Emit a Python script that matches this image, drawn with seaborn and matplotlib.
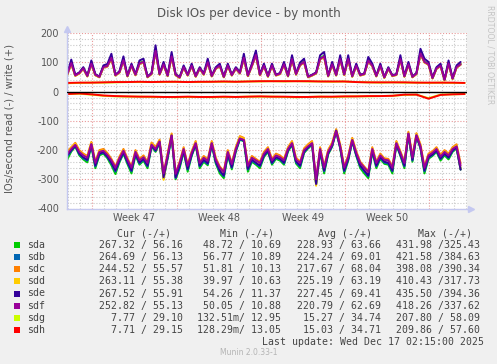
import numpy as np
import pandas as pd
import matplotlib
matplotlib.use("Agg")
import matplotlib.pyplot as plt
from matplotlib.patches import Rectangle
import seaborn as sns

# ---------------- data ----------------
devices = ["sda", "sdb", "sdc", "sdd", "sde", "sdf", "sdg", "sdh"]
colors = ["#00CC00", "#0066B3", "#FF8000", "#FFCC00", "#330099", "#990099", "#CCFF00", "#FF0000"]

t_start = "2025-11-14 22:00"
n_fine = 99      # 8-hour samples for sda..sdf
n_daily = 34     # daily samples for sdg/sdh

sda_w = [58,100,55,63,82,53,98,57,50,86, 90,118,56,66,110,53,92,57,99,104, 50,61,143,59,96,54,124,57,48,86,
         56,91,52,81,59,103,53,81,91,50, 92,56,81,63,118,54,91,129,57,91, 52,92,56,61,96,53,114,59,94,104,
         50,56,63,114,124,53,96,56,114,58, 114,52,91,56,60,108,91,53,91,48, 81,54,58,114,52,96,50,61,134,104,
         96,46,81,91,40,99,44,86,96]
sdb_w = [61,97,57,65,79,55,95,59,52,83, 87,115,58,68,107,55,89,59,96,101, 52,63,139,61,93,56,120,59,50,83,
         58,88,54,79,61,100,55,79,88,52, 89,58,79,65,115,56,88,125,59,88, 54,89,58,63,93,55,111,61,91,101,
         52,58,65,111,120,55,93,58,111,60, 111,54,88,58,62,105,88,55,88,50, 79,56,60,111,54,93,52,63,130,101,
         93,48,79,88,42,96,46,83,93]
sdc_w = [57,95,54,62,78,52,94,56,49,82, 86,113,55,65,106,52,88,56,95,100, 49,60,137,58,92,53,118,56,47,82,
         55,87,51,78,58,99,52,78,87,49, 88,55,78,62,113,53,87,123,56,87, 51,88,55,60,92,52,110,58,90,100,
         49,55,62,110,118,52,92,55,110,57, 110,51,87,55,59,104,87,52,87,47, 78,53,57,110,51,92,49,60,128,100,
         92,45,78,87,39,95,43,82,92]
sdd_w = [59,97,56,64,80,54,96,58,51,84, 88,115,57,67,108,54,90,58,97,101, 51,62,139,60,94,55,120,58,49,84,
         57,89,53,80,60,100,54,80,89,51, 90,57,80,64,115,55,89,125,58,89, 53,90,57,62,94,54,111,60,92,101,
         51,57,64,111,120,54,94,57,111,59, 111,53,89,57,61,105,89,54,89,49, 80,55,59,111,53,94,51,62,130,101,
         94,47,80,89,41,97,45,84,94]
sde_w = [62,110,58,66,84,55,107,60,52,90, 95,130,58,70,121,55,96,60,107,113, 52,64,159,62,102,56,136,60,50,90,
         58,96,54,84,62,113,55,84,96,52, 96,58,84,66,130,56,96,141,60,96, 54,96,58,64,102,55,125,62,100,113,
         52,58,66,125,136,55,102,58,125,60, 125,54,96,58,62,119,96,55,96,50, 84,56,60,125,54,102,52,64,147,113,
         102,48,84,96,42,107,46,90,102]
sdf_w = [60,98,56,64,80,54,96,58,51,84, 88,116,57,67,108,54,90,58,97,102, 51,62,140,60,94,55,121,58,49,84,
         57,89,53,80,60,101,54,80,89,51, 90,57,80,64,116,55,89,126,58,89, 53,90,57,62,94,54,112,60,92,102,
         51,57,64,112,121,54,94,57,112,59, 112,53,89,57,61,106,89,54,89,49, 80,55,59,112,53,94,51,62,131,102,
         94,47,80,89,41,97,45,84,94]

sda_r = [-232,-205,-188,-218,-232,-242,-186,-262,-218,-212, -228,-252,-282,-242,-212,-248,-280,-218,-250,-236,
         -262,-188,-206,-176,-298,-230,-154,-300,-262,-206, -274,-220,-182,-262,-240,-252,-182,-246,-280,-296,
         -218,-266,-205,-164,-170,-274,-240,-250,-262,-224, -206,-250,-230,-236,-250,-205,-182,-246,-262,-210,
         -194,-182,-318,-206,-280,-215,-188,-136,-194,-280, -236,-170,-220,-262,-280,-296,-206,-262,-230,-247,
         -250,-280,-182,-220,-262,-147,-240,-153,-194,-280, -230,-220,-206,-236,-218,-232,-206,-194,-267]
sdb_r = [-222,-202,-186,-214,-228,-236,-183,-256,-214,-209, -224,-246,-274,-238,-209,-243,-273,-214,-246,-232,
         -256,-186,-203,-174,-296,-226,-152,-296,-256,-203, -267,-217,-180,-256,-236,-248,-180,-242,-273,-290,
         -214,-261,-202,-163,-169,-267,-236,-246,-256,-220, -203,-246,-226,-232,-246,-202,-180,-242,-256,-207,
         -192,-180,-318,-203,-273,-212,-186,-135,-192,-273, -232,-169,-217,-256,-273,-290,-203,-256,-226,-243,
         -246,-273,-180,-217,-256,-146,-236,-152,-192,-273, -226,-217,-203,-231,-214,-227,-203,-192,-265]
sdc_r = [-205,-190,-175,-200,-212,-220,-172,-240,-200,-196, -210,-230,-256,-222,-196,-228,-256,-200,-230,-218,
         -240,-174,-190,-164,-278,-212,-143,-278,-240,-190, -250,-204,-169,-240,-220,-232,-169,-226,-256,-272,
         -200,-244,-190,-152,-158,-250,-220,-230,-240,-206, -190,-230,-212,-218,-230,-190,-169,-226,-240,-194,
         -180,-169,-300,-190,-256,-199,-174,-128,-180,-256, -218,-158,-204,-240,-256,-272,-190,-240,-212,-228,
         -230,-256,-169,-204,-240,-137,-220,-142,-180,-256, -212,-204,-190,-216,-200,-212,-190,-180,-245]
sdd_r = [-208,-193,-178,-204,-216,-224,-175,-245,-204,-200, -214,-236,-262,-228,-200,-233,-262,-204,-236,-223,
         -245,-177,-194,-167,-302,-216,-146,-284,-245,-194, -256,-208,-172,-245,-225,-238,-172,-231,-262,-278,
         -204,-250,-194,-155,-161,-256,-225,-236,-245,-210, -194,-236,-216,-223,-236,-194,-172,-231,-245,-198,
         -184,-172,-322,-194,-262,-203,-177,-131,-184,-262, -223,-161,-208,-245,-262,-278,-194,-245,-216,-234,
         -236,-262,-172,-208,-245,-140,-225,-145,-184,-262, -216,-208,-194,-221,-204,-216,-194,-184,-263]
sde_r = [-218,-200,-184,-212,-225,-233,-181,-253,-212,-207, -222,-243,-270,-235,-207,-240,-270,-212,-243,-230,
         -253,-184,-201,-172,-293,-224,-150,-293,-253,-201, -264,-215,-178,-253,-233,-245,-178,-239,-270,-287,
         -212,-258,-200,-161,-167,-264,-233,-243,-253,-218, -201,-243,-224,-230,-243,-200,-178,-239,-253,-205,
         -190,-178,-316,-201,-270,-210,-184,-133,-190,-270, -230,-167,-215,-253,-270,-287,-201,-253,-224,-240,
         -243,-270,-178,-215,-253,-144,-233,-150,-190,-270, -224,-215,-201,-229,-212,-225,-201,-190,-267]
sdf_r = [-212,-196,-182,-206,-218,-226,-179,-244,-206,-202, -216,-235,-260,-228,-202,-233,-260,-206,-235,-224,
         -244,-181,-196,-170,-280,-218,-150,-281,-244,-196, -254,-209,-176,-244,-226,-237,-176,-232,-260,-275,
         -206,-248,-196,-160,-165,-254,-226,-235,-244,-212, -196,-235,-218,-224,-235,-196,-176,-232,-244,-200,
         -187,-176,-300,-196,-260,-205,-181,-135,-187,-260, -224,-165,-209,-244,-260,-275,-196,-244,-218,-233,
         -235,-260,-176,-209,-244,-143,-226,-149,-187,-260, -218,-209,-196,-222,-206,-218,-196,-187,-253]

sdg_w = [29,30,31,31,32,33,33,33,33,34, 33,33,34,34,34,35,35,36,35,36, 35,35,34,35,33,32,31,32,31,31, 30,31,30,30]
sdh_w = [30,31,31,32,33,33,34,33,34,34, 33,34,34,35,34,35,36,36,36,36, 36,35,35,35,33,32,32,32,32,31, 31,31,31,30]
sdg_r = [-8,-7,-10,-14,-16,-17,-17,-18,-18,-19, -18,-18,-19,-18,-18,-17,-17,-17,-18,-19,
         -18,-17,-18,-17,-16,-16,-15,-14,-11,-10, -22,-10,-9,-8]
sdh_r = [-8,-6,-9,-13,-15,-16,-17,-17,-18,-18, -17,-18,-18,-17,-18,-17,-16,-17,-17,-18,
         -18,-17,-17,-16,-16,-15,-15,-14,-10,-10, -24,-11,-9,-8]

write_series = [sda_w, sdb_w, sdc_w, sdd_w, sde_w, sdf_w, sdg_w, sdh_w]
read_series = [sda_r, sdb_r, sdc_r, sdd_r, sde_r, sdf_r, sdg_r, sdh_r]

cur_read = [267.32, 264.69, 244.52, 263.11, 267.52, 252.82, 7.77, 7.71]
cur_write = [56.16, 56.13, 55.57, 55.38, 55.91, 55.13, 29.10, 29.15]
min_read = [48.72, 56.77, 51.81, 39.97, 54.26, 50.05, 0.13251, 0.12829]
min_write = [10.69, 10.89, 10.13, 10.63, 11.37, 10.88, 12.95, 13.05]
avg_read = [228.93, 224.24, 217.67, 225.19, 227.45, 220.79, 15.27, 15.03]
avg_write = [63.66, 69.01, 68.04, 63.19, 69.41, 62.69, 34.74, 34.71]
max_read = [431.98, 421.58, 398.08, 410.43, 435.50, 418.26, 207.80, 209.86]
max_write = [325.43, 384.63, 390.34, 317.73, 394.36, 337.62, 58.09, 57.60]

week_labels = ["Week 47", "Week 48", "Week 49", "Week 50"]
week_starts = ["2025-11-17", "2025-11-24", "2025-12-01", "2025-12-08"]
y_ticks = [200, 100, 0, -100, -200, -300, -400]

# ---------------- build frames ----------------
t_fine = pd.date_range(t_start, periods=n_fine, freq="8h")
t_day = pd.date_range(t_start, periods=n_daily, freq="D")
rows_w, rows_r = [], []
for dev, w, r in zip(devices, write_series, read_series):
    tt = t_fine if len(w) == n_fine else t_day
    rows_w.append(pd.DataFrame({"time": tt, "value": w, "device": dev}))
    rows_r.append(pd.DataFrame({"time": tt, "value": r, "device": dev}))
df_w = pd.concat(rows_w, ignore_index=True)
df_r = pd.concat(rows_r, ignore_index=True)

# ---------------- figure ----------------
sns.set_style("white")
plt.rcParams["font.family"] = ["DejaVu Sans"]
W, H = 497, 364
fig = plt.figure(figsize=(W / 100, H / 100), dpi=100, facecolor="#F0F0F0")
L, R, T, B = 67.3, 466.7, 33.3, 208.5
ax = fig.add_axes([L / W, 1 - B / H, (R - L) / W, (B - T) / H])
ax.set_facecolor("white")

xmin = pd.Timestamp("2025-11-14 22:05")
xmax = pd.Timestamp("2025-12-18 02:10")

# grid (drawn first)
minor_col, major_col = "#c8c8c8", "#e89898"
dots = (0, (1, 1.6))
for v in range(-400, 201, 20):
    if v % 100 == 0:
        ax.axhline(v, color=major_col, lw=0.8, ls=dots, zorder=0.5)
    else:
        ax.axhline(v, color=minor_col, lw=0.8, ls=dots, zorder=0.4)
for d in pd.date_range("2025-11-15", "2025-12-18", freq="D"):
    if d.weekday() == 0:
        ax.axvline(d, color=major_col, lw=0.8, ls=dots, zorder=0.5)
    else:
        ax.axvline(d, color=minor_col, lw=0.8, ls=dots, zorder=0.4)

sns.lineplot(data=df_w, x="time", y="value", hue="device", hue_order=devices,
             palette=colors, estimator=None, sort=False, lw=1.4, legend=False, ax=ax)
sns.lineplot(data=df_r, x="time", y="value", hue="device", hue_order=devices,
             palette=colors, estimator=None, sort=False, lw=1.4, legend=False, ax=ax)
ax.axhline(0, color="black", lw=1.0, zorder=3)

ax.set_xlim(xmin, xmax)
ax.set_ylim(-400, 200)
ax.set_xlabel("")
ax.set_ylabel("")

# axes styling
axis_col = "#c4c8f0"
for s in ["top", "right"]:
    ax.spines[s].set_visible(False)
for s in ["left", "bottom"]:
    ax.spines[s].set_color(axis_col)
    ax.spines[s].set_linewidth(1.0)
ax.set_yticks(y_ticks)
ax.set_yticklabels([str(v) for v in y_ticks])
ax.tick_params(axis="y", length=2, color=axis_col, labelsize=7, labelcolor="#555555", pad=4)
mids = [pd.Timestamp(s) + pd.Timedelta(hours=84) for s in week_starts]
ax.set_xticks(mids)
ax.set_xticklabels(week_labels)
ax.tick_params(axis="x", length=0, labelsize=7, labelcolor="#555555", pad=3.5)
# arrows on the axes
ax.plot([0], [1.0 + 4.5 / (B - T)], marker="^", ms=4, color=axis_col, transform=ax.transAxes, clip_on=False)
ax.plot([1.0 + 4 / (R - L)], [0], marker=">", ms=4, color=axis_col, transform=ax.transAxes, clip_on=False)
ax.plot([0, 0], [1, 1.0 + 4 / (B - T)], color=axis_col, lw=1, transform=ax.transAxes, clip_on=False)
ax.plot([1, 1.0 + 3 / (R - L)], [0, 0], color=axis_col, lw=1, transform=ax.transAxes, clip_on=False)

# texts
fig.text(0.5, 1 - 14 / H, "Disk IOs per device - by month", ha="center", va="center",
         fontsize=8.6, color="#555555")
fig.text(10 / W, 1 - 119 / H, "IOs/second read (-) / write (+)", rotation=90,
         ha="center", va="center", fontsize=7.2, color="#555555")
fig.text(490 / W, 1 - 5 / H, "RRDTOOL / TOBI OETIKER", rotation=270, ha="center", va="top",
         fontsize=5.6, color="#c4c4c4")

mono = "DejaVu Sans Mono"
fs = 7.1
tc = "#444444"
for txt, x in zip(["Cur (-/+)", "Min (-/+)", "Avg (-/+)", "Max (-/+)"], [116.7, 220, 318, 418]):
    fig.text(x / W, 1 - 233.5 / H, txt, family=mono, fontsize=fs, color=tc, ha="left", va="center")


def si(v):
    if v < 1:
        return f"{v * 1000:6.2f}m"
    return f"{v:6.2f} "


cols_x = [98.7, 197.3, 296.7, 395.7]
for i, dev in enumerate(devices):
    yc = 245.3 + i * 12.05
    fig.patches.append(Rectangle((14 / W, 1 - (yc + 3) / H), 6 / W, 6 / H,
                                 transform=fig.transFigure, facecolor=colors[i], edgecolor="none"))
    fig.text(26.7 / W, 1 - yc / H, dev, family=mono, fontsize=fs, color=tc, ha="left", va="center")
    vals = [(cur_read[i], cur_write[i]), (min_read[i], min_write[i]),
            (avg_read[i], avg_write[i]), (max_read[i], max_write[i])]
    for (rv, wv), x in zip(vals, cols_x):
        fig.text(x / W, 1 - yc / H, si(rv) + "/" + si(wv), family=mono, fontsize=fs,
                 color=tc, ha="left", va="center")

fig.text(483.5 / W, 1 - 341.8 / H, "Last update: Wed Dec 17 02:15:00 2025", family=mono,
         fontsize=fs, color=tc, ha="right", va="center")
fig.text(248.5 / W, 1 - 352.8 / H, "Munin 2.0.33-1", fontsize=5.5, color="#b4b4b4",
         ha="center", va="center")

fig.savefig("out.png", dpi=100, facecolor=fig.get_facecolor())
